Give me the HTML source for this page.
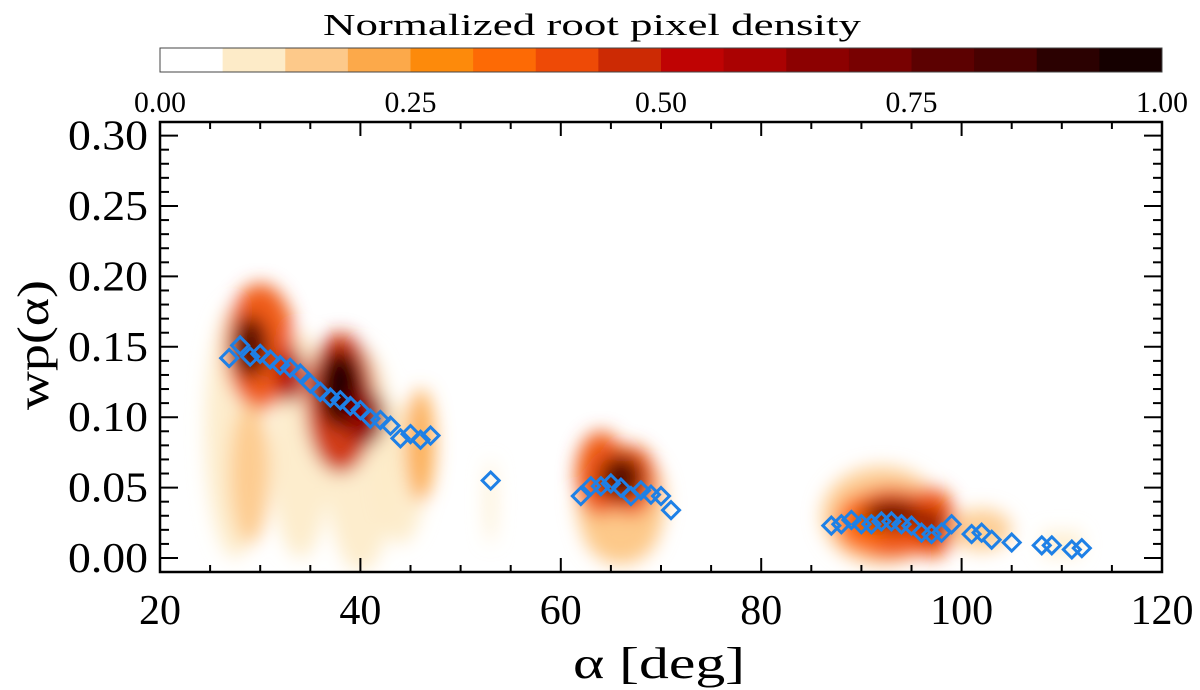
<!DOCTYPE html>
<html><head><meta charset="utf-8"><style>
html,body{margin:0;padding:0;background:#fff;}
svg{display:block;font-family:"Liberation Serif",serif;}
</style></head><body>
<svg id="chart" width="1200" height="690" viewBox="0 0 1200 690">
<defs>
<filter id="blur" x="-50%" y="-50%" width="200%" height="200%"><feGaussianBlur stdDeviation="9"/></filter>
<clipPath id="clip"><rect x="161" y="123" width="1000" height="448"/></clipPath>
</defs>
<text transform="translate(592,35) scale(1.45,1)" font-size="31" text-anchor="middle">Normalized root pixel density</text>
<g id="cbar"></g>
<g id="density" clip-path="url(#clip)"></g>
<g id="points"></g>
<rect x="160" y="122" width="1002" height="450" fill="none" stroke="#000" stroke-width="2.5"/>
<g id="axes"></g>
<text x="573" y="678" font-size="44" textLength="172" lengthAdjust="spacingAndGlyphs">α [deg]</text>
<text transform="translate(48,410) rotate(-90)" font-size="44" textLength="130" lengthAdjust="spacingAndGlyphs">wp(α)</text>
</svg>
<script>
const cbColors=["#ffffff","#fdebc8","#fdc98a","#fca94a","#fd8a0b","#fd6a05","#ee4a06","#cc2a04","#bf0303","#aa0202","#8c0101","#780101","#5c0101","#480101","#2b0101","#150000"];
const cbTicks=["0.00","0.25","0.50","0.75","1.00"];
const xTicks=[20,40,60,80,100,120];
const yTicks=[0,0.05,0.10,0.15,0.20,0.25,0.30];
const alphaVals=[26.9,28,29,30,31,32,33,34,35,36,37,38,39,40,41,42,43,44,45,46,47,53,62,63,64,65,66,67,68,69,70,71,87,88,89,90,91,92,93,94,95,96,97,98,99,101,102,103,105,108,109,111,112];
const wpVals=[0.142,0.151,0.143,0.145,0.141,0.137,0.135,0.131,0.124,0.118,0.114,0.112,0.108,0.105,0.099,0.098,0.094,0.085,0.088,0.084,0.087,0.055,0.044,0.051,0.051,0.053,0.050,0.044,0.048,0.045,0.044,0.034,0.023,0.024,0.027,0.024,0.024,0.026,0.026,0.024,0.023,0.018,0.017,0.018,0.024,0.017,0.018,0.013,0.011,0.009,0.009,0.006,0.007];
// density blobs: center alpha, center wp, half-width deg, half-height wp, color index
const blobA=[27.5,34,40,44,30,29,38,46,53,66,66,64,67,92,93,97,90,102,109,111, 29,38,66,93,97,33,40.5];
const blobW=[0.09,0.08,0.07,0.06,0.15,0.06,0.11,0.08,0.04,0.04,0.025,0.06,0.055,0.03,0.025,0.025,0.025,0.02,0.01,0.01, 0.15,0.12,0.057,0.031,0.024,0.13,0.10];
const blobDX=[3,3,3.5,2.5,3.5,2,3.5,1.5,0.5,4.5,4,2.5,2.5,6,5,2.5,2.5,3,1,1, 1.8,2.2,2.2,3,1.3,1.5,2];
const blobDY=[0.09,0.08,0.08,0.05,0.045,0.05,0.05,0.04,0.03,0.04,0.03,0.03,0.025,0.035,0.025,0.025,0.02,0.015,0.01,0.01, 0.022,0.028,0.016,0.01,0.01,0.02,0.02];
const blobC=[1,1,1,1,6,2,7,3,1,2,2,6,6,2,6,6,5,2,1,1, 13,15,13,12,11,9,10];
const xs=a=>160+(a-20)*10.02;
const ys=v=>558-v*1408;
const NS="http://www.w3.org/2000/svg";
function mk(t,attrs,parent){const e=document.createElementNS(NS,t);for(const k in attrs)e.setAttribute(k,attrs[k]);parent.appendChild(e);return e;}
const cb=document.getElementById('cbar');
const cw=1002/cbColors.length;
cbColors.forEach((c,i)=>{const r=mk('rect',{x:160+i*cw,y:48,width:cw+0.5,height:24,fill:c},cb);

});
mk('rect',{x:160,y:48,width:1002,height:24,fill:'none',stroke:'#444','stroke-width':1},cb);
cbTicks.forEach((t,i)=>{const e=mk('text',{x:160+i*250.5,y:112,'font-size':30,'text-anchor':'middle',textLength:52,lengthAdjust:'spacingAndGlyphs'},cb);e.textContent=t;

});
const dens=document.getElementById('density');
const gb=mk('g',{filter:'url(#blur)'},dens);
blobA.forEach((a,i)=>{const e=mk('ellipse',{cx:xs(a),cy:ys(blobW[i]),rx:blobDX[i]*10.02,ry:blobDY[i]*1408,fill:cbColors[blobC[i]],opacity:0.9},gb);

});
const pts=document.getElementById('points');
alphaVals.forEach((a,i)=>{const x=xs(a),y=ys(wpVals[i]);
const p=mk('path',{d:`M${x} ${y-8.5} L${x+8.5} ${y} L${x} ${y+8.5} L${x-8.5} ${y} Z`,fill:'none',stroke:'#1e80e6','stroke-width':3},pts);

});
const ax=document.getElementById('axes');
for(let a=20;a<=120;a+=5){const L=(a%20===0)?14:7;
mk('line',{x1:xs(a),y1:572,x2:xs(a),y2:572-L,stroke:'#000','stroke-width':2},ax);
mk('line',{x1:xs(a),y1:122,x2:xs(a),y2:122+L,stroke:'#000','stroke-width':2},ax);}
for(let k=0;k<=31;k++){const v=k/100;if(ys(v)<122)break;const L=(k%5===0)?18:9;
mk('line',{x1:160,y1:ys(v),x2:160+L,y2:ys(v),stroke:'#000','stroke-width':2},ax);
mk('line',{x1:1162,y1:ys(v),x2:1162-L,y2:ys(v),stroke:'#000','stroke-width':2},ax);}
xTicks.forEach(a=>{const e=mk('text',{x:xs(a),y:624,'font-size':42,'text-anchor':'middle'},ax);e.textContent=a;

});
yTicks.forEach(v=>{const e=mk('text',{x:148,y:ys(v)+14,'font-size':42,'text-anchor':'end',textLength:80,lengthAdjust:'spacingAndGlyphs'},ax);e.textContent=v.toFixed(2);

});
</script>
</body></html>
